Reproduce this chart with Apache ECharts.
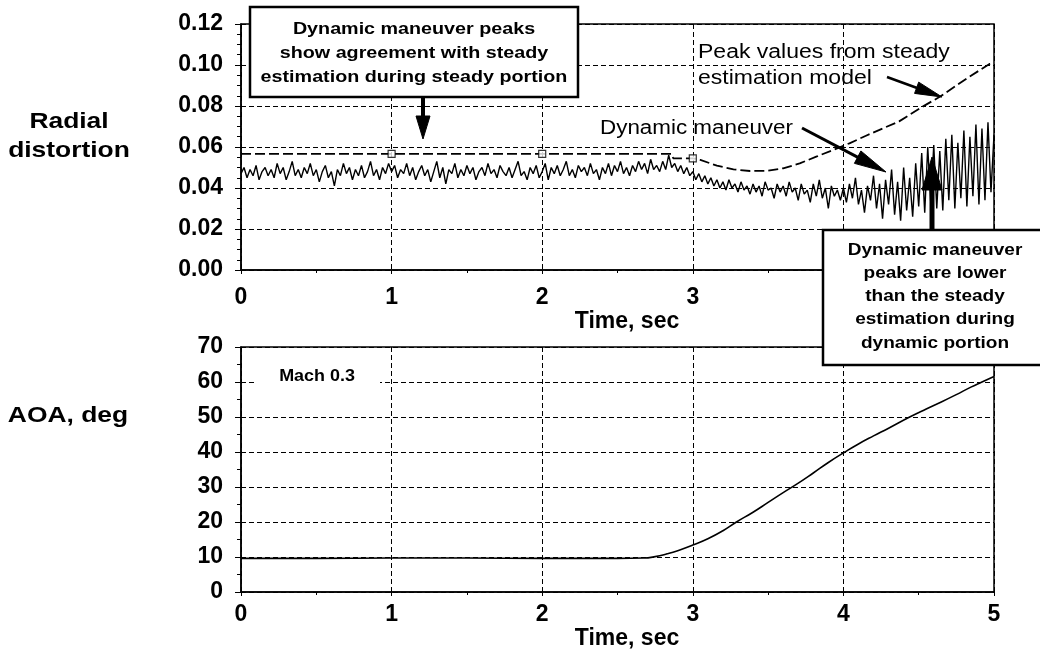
<!DOCTYPE html>
<html><head><meta charset="utf-8">
<script src="https://cdn.jsdelivr.net/npm/echarts@6/dist/echarts.min.js"></script>
<style>html,body{margin:0;padding:0;background:#fff}#c{width:1040px;height:652px}</style>
</head><body><div id="c"></div>
<script>
// ---------- data ----------
const timeTicks = [0, 1, 2, 3, 4, 5];
const radialTicks = [0, 0.02, 0.04, 0.06, 0.08, 0.10, 0.12];
const aoaTicks = [0, 10, 20, 30, 40, 50, 60, 70];
const sampleStep = 0.02; // seconds between samples of the dynamic record

// Dynamic maneuver radial distortion, samples every 0.02 s from 0 to 5 s
const dynamicManeuver = [
  0.047, 0.050, 0.045, 0.049, 0.046, 0.051, 0.044, 0.048, 0.050, 0.046,
  0.049, 0.045, 0.052, 0.047, 0.050, 0.044, 0.048, 0.053, 0.046, 0.049,
  0.045, 0.050, 0.047, 0.052, 0.046, 0.049, 0.043, 0.048, 0.051, 0.045,
  0.048, 0.041, 0.049, 0.046, 0.052, 0.047, 0.050, 0.044, 0.049, 0.046,
  0.051, 0.045, 0.048, 0.053, 0.046, 0.049, 0.044, 0.050, 0.047, 0.052,
  0.048, 0.051, 0.045, 0.049, 0.047, 0.052, 0.046, 0.050, 0.044, 0.048,
  0.051, 0.046, 0.049, 0.043, 0.048, 0.053, 0.045, 0.050, 0.042, 0.049,
  0.047, 0.052, 0.045, 0.049, 0.046, 0.051, 0.047, 0.050, 0.044, 0.048,
  0.050, 0.046, 0.052, 0.047, 0.049, 0.045, 0.051, 0.048, 0.046, 0.050,
  0.045, 0.049, 0.053, 0.046, 0.048, 0.044, 0.050, 0.047, 0.051, 0.045,
  0.048, 0.052, 0.044, 0.050, 0.047, 0.051, 0.046, 0.049, 0.053, 0.046,
  0.049, 0.045, 0.051, 0.048, 0.050, 0.046, 0.052, 0.047, 0.049, 0.044,
  0.050, 0.047, 0.052, 0.046, 0.051, 0.048, 0.053, 0.047, 0.050, 0.046,
  0.051, 0.048, 0.053, 0.049, 0.052, 0.047, 0.054, 0.049, 0.051, 0.048,
  0.053, 0.049, 0.056, 0.050, 0.052, 0.048, 0.051, 0.047, 0.050, 0.046,
  0.048, 0.044, 0.047, 0.043, 0.046, 0.042, 0.045, 0.041, 0.044, 0.040,
  0.043, 0.039, 0.044, 0.040, 0.042, 0.038, 0.043, 0.039, 0.041, 0.037,
  0.042, 0.038, 0.041, 0.036, 0.043, 0.039, 0.040, 0.035, 0.042, 0.038,
  0.041, 0.036, 0.043, 0.038, 0.040, 0.034, 0.042, 0.037, 0.039, 0.033,
  0.042, 0.036, 0.044, 0.035, 0.040, 0.030, 0.041, 0.036, 0.039, 0.034,
  0.040, 0.033, 0.042, 0.035, 0.045, 0.032, 0.039, 0.028, 0.041, 0.034,
  0.046, 0.030, 0.042, 0.025, 0.044, 0.032, 0.049, 0.027, 0.043, 0.024,
  0.050, 0.029, 0.045, 0.026, 0.052, 0.031, 0.057, 0.028, 0.060, 0.033,
  0.061, 0.030, 0.058, 0.029, 0.064, 0.034, 0.066, 0.030, 0.062, 0.035,
  0.068, 0.031, 0.065, 0.036, 0.071, 0.032, 0.069, 0.034, 0.072, 0.038,
  0.066
];

// Peak values from the steady estimation model [time, value]
const steadyTime  = [0, 0.5, 1, 1.5, 2, 2.5, 2.86, 2.87, 3.0, 3.05, 3.16, 3.27, 3.38, 3.49, 3.6, 3.71, 3.82, 3.93, 4.04, 4.15, 4.26, 4.37, 4.51, 4.64, 4.82, 4.97, 5.0];
const steadyValue = [0.0566, 0.0566, 0.0566, 0.0566, 0.0566, 0.0566, 0.0566, 0.0545, 0.0545, 0.0537, 0.0509, 0.0491, 0.0483, 0.0484, 0.0496, 0.0520, 0.0553, 0.0585, 0.0618, 0.0655, 0.0690, 0.0725, 0.0790, 0.0845, 0.0935, 0.1005, 0.1010];
// Square markers on the steady estimation line
const markerTime  = [1, 2, 3];
const markerValue = [0.0566, 0.0566, 0.0545];

// Angle of attack, deg
const aoaTime  = [0, 0.5, 1, 1.5, 2, 2.5, 2.67, 2.75, 2.83, 2.9, 3.0, 3.1, 3.2, 3.29, 3.4, 3.5, 3.6, 3.69, 3.8, 3.9, 4.01, 4.1, 4.2, 4.3, 4.44, 4.55, 4.65, 4.75, 4.85, 4.92, 5.0];
const aoaValue = [9.6, 9.6, 9.7, 9.7, 9.6, 9.6, 9.7, 10.1, 10.9, 11.8, 13.4, 15.2, 17.5, 20.0, 22.8, 25.6, 28.4, 30.8, 34.0, 37.0, 40.0, 42.3, 44.6, 46.8, 50.0, 52.3, 54.3, 56.4, 58.6, 60.0, 61.6];

// ---------- chart ----------
const FONT = "'Liberation Sans', Arial, Helvetica, sans-serif";
const chart = echarts.init(document.getElementById('c'), null, {renderer: 'canvas'});

const dynData = dynamicManeuver.map((v, i) => [Math.round(i * sampleStep * 100) / 100, v]);
const steadyData = steadyTime.map((t, i) => [t, steadyValue[i]]);
const markerData = markerTime.map((t, i) => [t, markerValue[i]]);
const aoaData = aoaTime.map((t, i) => [t, aoaValue[i]]);

const labelStyle = {color: '#000', fontFamily: FONT, fontWeight: 'bold', fontSize: 23};
const gridLine = {show: true, lineStyle: {color: '#000', type: [5, 3], width: 1}};

function xAxisCfg(gi, labelMargin, nameGap) {
  return {
    gridIndex: gi, type: 'value',
    min: timeTicks[0], max: timeTicks[timeTicks.length - 1], interval: timeTicks[1] - timeTicks[0],
    axisLine: {show: true, onZero: false, lineStyle: {color: '#000', width: 1.5}},
    axisTick: {show: true, length: 4, lineStyle: {color: '#000'}},
    minorTick: {show: true, splitNumber: 2, length: 3, lineStyle: {color: '#000'}},
    splitLine: gridLine,
    axisLabel: Object.assign({margin: labelMargin, formatter: v => String(v)}, labelStyle),
    name: 'Time, sec', nameLocation: 'middle', nameGap: nameGap,
    nameTextStyle: {color: '#000', fontFamily: FONT, fontWeight: 'bold', fontSize: 23, padding: [0, 0, 0, 19]}
  };
}
function yAxisCfg(gi, ticks, minorSplit, fmt) {
  return {
    gridIndex: gi, type: 'value',
    min: ticks[0], max: ticks[ticks.length - 1], interval: ticks[1] - ticks[0],
    axisLine: {show: true, lineStyle: {color: '#000', width: 1.5}},
    axisTick: {show: true, length: 6, lineStyle: {color: '#000'}},
    minorTick: {show: true, splitNumber: minorSplit, length: 4, lineStyle: {color: '#000'}},
    splitLine: gridLine,
    axisLabel: Object.assign({margin: 18, formatter: fmt}, labelStyle)
  };
}

function arrow(x1, y1, x2, y2, headLen, headHalf, shaftW) {
  const dx = x2 - x1, dy = y2 - y1, L = Math.hypot(dx, dy), ux = dx / L, uy = dy / L;
  const bx = x2 - ux * headLen, by = y2 - uy * headLen;
  const px = -uy * headHalf, py = ux * headHalf;
  return [
    {type: 'line', z: 100, shape: {x1: x1, y1: y1, x2: bx + ux * 2, y2: by + uy * 2}, style: {stroke: '#000', lineWidth: shaftW}},
    {type: 'polygon', z: 100, shape: {points: [[x2, y2], [bx + px, by + py], [bx - px, by - py]]}, style: {fill: '#000', stroke: '#000', lineWidth: 1}}
  ];
}
function txt(x, y, text, o) {
  return {
    type: 'text', x: x, y: y, scaleX: o.sx || 1, z: 102,
    style: {
      text: text, fill: '#000',
      font: (o.w || 'normal') + ' ' + o.size + 'px ' + FONT,
      textAlign: o.align || 'center', align: o.align || 'center',
      textVerticalAlign: 'middle', verticalAlign: 'middle',
      lineHeight: o.lh || o.size
    }
  };
}

const graphics = [].concat(
  [
    // y-axis titles
    txt(69, 136, 'Radial\ndistortion', {w: 'bold', size: 22, sx: 1.2, lh: 29}),
    txt(68, 416, 'AOA, deg', {w: 'bold', size: 22, sx: 1.2}),
    // Mach label with white backing over grid line
    {type: 'rect', z: 99, shape: {x: 257, y: 370, width: 123, height: 15}, style: {fill: '#fff'}},
    txt(317, 377, 'Mach 0.3', {w: 'bold', size: 16, sx: 1.12}),
    // box 1
    {type: 'rect', z: 99, shape: {x: 250, y: 7, width: 328, height: 90}, style: {fill: '#fff', stroke: '#000', lineWidth: 2.5}},
    txt(414, 53, 'Dynamic maneuver peaks\nshow agreement with steady\nestimation during steady portion', {w: 'bold', size: 17, sx: 1.16, lh: 24}),
    // regular annotations
    txt(698, 65, 'Peak values from steady\nestimation model', {size: 20, sx: 1.15, align: 'left', lh: 26}),
    txt(600, 128, 'Dynamic maneuver', {size: 20, sx: 1.12, align: 'left'}),
    // box 2
    {type: 'rect', z: 99, shape: {x: 823, y: 230, width: 230, height: 135}, style: {fill: '#fff', stroke: '#000', lineWidth: 2.5}},
    txt(935, 296.5, 'Dynamic maneuver\npeaks are lower\nthan the steady\nestimation during\ndynamic portion', {w: 'bold', size: 17, sx: 1.12, lh: 23.3})
  ],
  arrow(423, 97, 423, 139, 23, 7, 4),
  arrow(887, 77, 942, 97, 27, 6, 2.5),
  arrow(802, 128, 886, 172, 32, 7, 3),
  arrow(932, 230, 932, 157, 33, 10, 5)
);

const option = {
  animation: false,
  backgroundColor: '#fff',
  grid: [
    {left: 241, top: 24, width: 753, height: 246, show: true, borderColor: '#000', borderWidth: 1.5},
    {left: 241, top: 347, width: 753, height: 245, show: true, borderColor: '#000', borderWidth: 1.5}
  ],
  xAxis: [xAxisCfg(0, 16, 35), xAxisCfg(1, 11, 34)],
  yAxis: [
    yAxisCfg(0, radialTicks, 4, v => v.toFixed(2)),
    yAxisCfg(1, aoaTicks, 2, v => String(v))
  ],
  series: [
    {name: 'Dynamic maneuver', type: 'line', xAxisIndex: 0, yAxisIndex: 0, data: dynData,
     showSymbol: false, sampling: null, lineStyle: {color: '#000', width: 1.4}, z: 3},
    {name: 'Peak values from steady estimation model', type: 'line', xAxisIndex: 0, yAxisIndex: 0, data: steadyData,
     showSymbol: false, smooth: false, lineStyle: {color: '#000', width: 1.8, type: [10, 4]}, z: 4},
    {name: 'Steady estimation points', type: 'scatter', xAxisIndex: 0, yAxisIndex: 0, data: markerData,
     symbol: 'rect', symbolSize: 7, itemStyle: {color: '#fff', borderColor: '#000', borderWidth: 1.2}, z: 5},
    {name: 'AOA', type: 'line', xAxisIndex: 1, yAxisIndex: 1, data: aoaData,
     showSymbol: false, smooth: true, lineStyle: {color: '#000', width: 1.6}, z: 3}
  ],
  graphic: {elements: graphics}
};
chart.setOption(option);
</script></body></html>
